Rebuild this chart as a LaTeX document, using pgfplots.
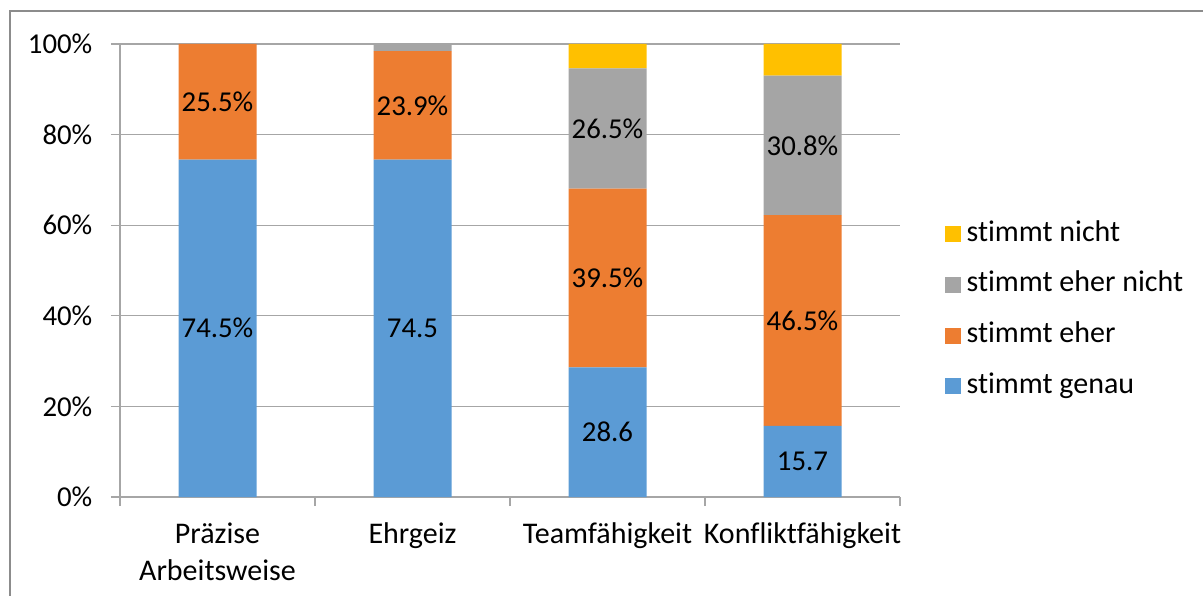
\documentclass[border=0pt]{standalone}
\usepackage{fontspec}
\setmainfont{Carlito}[Ligatures={NoCommon}]
\usepackage{pgfplots}
\pgfplotsset{compat=1.18}
\definecolor{cBlue}{HTML}{5B9BD5}
\definecolor{cOrange}{HTML}{ED7D31}
\definecolor{cGray}{HTML}{A5A5A5}
\definecolor{cYellow}{HTML}{FFC000}
\definecolor{cAxis}{HTML}{A6A6A6}
\newcommand{\numfont}{\fontsize{21.6}{27.75}\selectfont}
\newcommand{\txtfont}{\fontsize{22.5}{27.75}\selectfont}
\begin{document}
\begin{tikzpicture}
\useasboundingbox (0,0) rectangle (902.25pt,447pt);
\draw[black!45, line width=1.2pt] (7.5pt,0) -- (7.5pt,438.75pt) -- (902.25pt,438.75pt);
\begin{axis}[
  at={(90pt,74.25pt)}, anchor=south west,
  scale only axis, width=585pt, height=339.75pt,
  ybar stacked, bar width=58.5pt,
  xmin=-0.5, xmax=3.5, ymin=0, ymax=100,
  axis x line*=bottom, axis y line*=left,
  axis line style={draw=cAxis, line width=1pt, -},
  tick align=outside, major tick length=6.75pt, minor tick length=6.75pt,
  tick style={cAxis, line width=1pt},
  xtick={0,1,2,3},
  xticklabels={Präzise\\Arbeitsweise, Ehrgeiz, Teamfähigkeit, Konfliktfähigkeit},
  major x tick style={draw=none},
  minor xtick={-0.5,0.5,1.5,2.5,3.5},
  ytick={0,20,40,60,80,100},
  yticklabels={0\%,20\%,40\%,60\%,80\%,100\%},
  ymajorgrids, grid style={cAxis, line width=1pt},
  xticklabel style={font=\txtfont, align=center, anchor=north, yshift=-9pt},
  yticklabel style={font=\numfont, anchor=east, xshift=-10.5pt},
  legend style={at={(1,0.412)}, anchor=west, xshift=33.75pt, draw=none, fill=none,
    font=\txtfont, inner sep=0pt, row sep=20pt,
    nodes={inner xsep=4pt, inner ysep=0pt, text height=14pt, text depth=4pt}},
  legend cell align=left, reverse legend,
  legend image code/.code={\fill[#1] (0pt,-6pt) rectangle (12pt,6pt);},
]
\addplot[fill=cBlue, draw=none] coordinates {(0,74.5) (1,74.5) (2,28.6) (3,15.7)};
\addplot[fill=cOrange, draw=none] coordinates {(0,25.5) (1,23.9) (2,39.5) (3,46.5)};
\addplot[fill=cGray, draw=none] coordinates {(0,0) (1,1.6) (2,26.5) (3,30.8)};
\addplot[fill=cYellow, draw=none] coordinates {(0,0) (1,0) (2,5.4) (3,7.0)};
\legend{stimmt genau, stimmt eher, stimmt eher nicht, stimmt nicht}
\end{axis}
\begin{axis}[
  at={(90pt,74.25pt)}, anchor=south west,
  scale only axis, width=585pt, height=339.75pt,
  xmin=-0.5, xmax=3.5, ymin=0, ymax=100,
  hide axis, clip=false,
]
\addplot[draw=none, mark=none, nodes near coords, point meta=explicit symbolic,
  nodes near coords align={center},
  every node near coord/.append style={font=\numfont, anchor=center, inner sep=0pt, black}]
  coordinates {
  (0,37.25) [74.5\%]
  (0,87.25) [25.5\%]
  (1,37.25) [74.5]
  (1,86.45) [23.9\%]
  (2,14.3) [28.6]
  (2,48.35) [39.5\%]
  (2,81.35) [26.5\%]
  (3,7.85) [15.7]
  (3,38.95) [46.5\%]
  (3,77.6) [30.8\%]
  };
\end{axis}
\end{tikzpicture}
\end{document}
